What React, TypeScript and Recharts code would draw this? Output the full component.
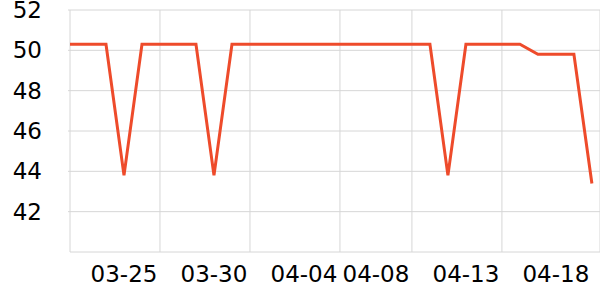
import { LineChart, Line, XAxis, YAxis, CartesianGrid } from "recharts"

const dates = [
  "03-22", "03-23", "03-24", "03-25", "03-26", "03-27", "03-28", "03-29", "03-30", "03-31",
  "04-01", "04-02", "04-03", "04-04", "04-05", "04-06", "04-07", "04-08", "04-09", "04-10",
  "04-11", "04-12", "04-13", "04-14", "04-15", "04-16", "04-17", "04-18", "04-19", "04-20",
]

const values = [
  50.3, 50.3, 50.3, 43.8, 50.3, 50.3, 50.3, 50.3, 43.8, 50.3,
  50.3, 50.3, 50.3, 50.3, 50.3, 50.3, 50.3, 50.3, 50.3, 50.3,
  50.3, 43.8, 50.3, 50.3, 50.3, 50.3, 49.8, 49.8, 49.8, 43.4,
]

// gridlines sit on these days, labels on the others
const gridDates = ["03-22", "03-27", "04-01", "04-06", "04-10", "04-15"]
const labelDates = ["03-25", "03-30", "04-04", "04-08", "04-13", "04-18"]
const yTicks = [42, 44, 46, 48, 50, 52]

const data = dates.map((d, i) => ({ idx: i, date: d, value: values[i] }))
const gridTicks = gridDates.map((d) => dates.indexOf(d))
const labelTicks = labelDates.map((d) => dates.indexOf(d))

const font = { fontFamily: "DejaVu Sans", fontSize: 23, fill: "#000" }

export default function App() {
  return (
    <div style={{ position: "absolute", left: 0, top: 0 }}>
      <LineChart width={600} height={300} data={data} margin={{ top: 10, right: 0, bottom: 0, left: 0 }}>
        <CartesianGrid xAxisId="grid" stroke="#d6d6d6" strokeWidth={1} />
        <XAxis
          xAxisId="grid"
          dataKey="idx"
          type="number"
          domain={[0, 29.45]}
          ticks={gridTicks}
          height={0}
          stroke="#aaa"
          tickSize={4}
          tickFormatter={() => ""}
        />
        <XAxis
          xAxisId="lab"
          dataKey="idx"
          type="number"
          domain={[0, 29.45]}
          ticks={labelTicks}
          height={48}
          axisLine={false}
          tickLine={false}
          tickSize={0}
          tickMargin={14}
          tick={font}
          interval={0}
          tickFormatter={(v) => dates[v]}
        />
        <YAxis
          domain={[40, 52]}
          ticks={yTicks}
          width={70}
          axisLine={false}
          tickLine={{ stroke: "#d6d6d6" }}
          tickSize={2}
          tickMargin={26}
          tick={font}
          interval={0}
        />
        <Line
          xAxisId="grid"
          type="linear"
          dataKey="value"
          stroke="#ee4b2b"
          strokeWidth={3}
          dot={false}
          isAnimationActive={false}
        />
      </LineChart>
    </div>
  )
}
